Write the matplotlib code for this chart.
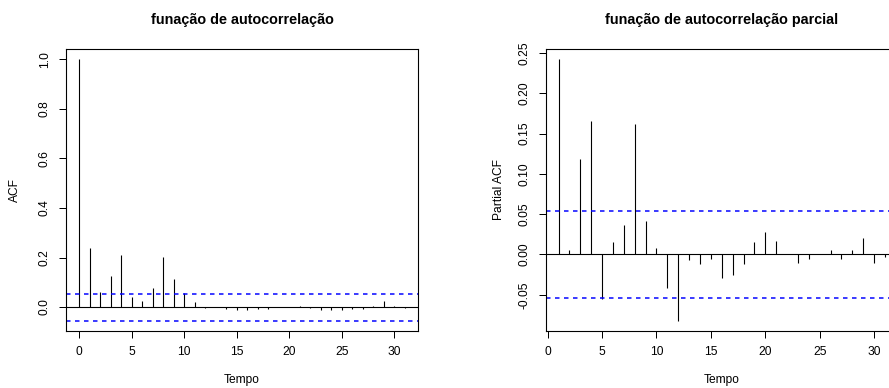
import matplotlib.pyplot as plt
import numpy as np

plt.rcParams["font.family"] = ["Liberation Sans", "DejaVu Sans"]

acf_lags = np.arange(0, 32)
acf_values = [
    1.000, 0.238, 0.062, 0.126, 0.211, 0.040, 0.026, 0.075, 0.202, 0.112,
    0.056, 0.019, -0.003, 0.000, -0.009, -0.013, -0.012, -0.007, -0.009, 0.000,
    0.000, 0.004, -0.005, -0.013, -0.012, -0.012, -0.009, -0.008, 0.005, 0.026,
    0.004, -0.005,
]

pacf_lags = np.arange(1, 32)
pacf_values = [
    0.242, 0.006, 0.119, 0.166, -0.055, 0.015, 0.037, 0.162, 0.041, 0.008,
    -0.042, -0.082, -0.007, -0.012, -0.006, -0.029, -0.026, -0.012, 0.015, 0.028,
    0.017, 0.001, -0.010, -0.006, 0.001, 0.006, -0.006, 0.006, 0.021, -0.010,
    -0.003,
]

# 95% band, qnorm(0.975) / sqrt(n)
conf_limit = 0.0545

x_ticks = [0, 5, 10, 15, 20, 25, 30]
acf_y_ticks = [0.0, 0.2, 0.4, 0.6, 0.8, 1.0]
pacf_y_ticks = [-0.05, 0.00, 0.05, 0.10, 0.15, 0.20, 0.25]

W, H = 889, 388
PX = 72 / 100  # one pixel in points at dpi 100


def r_panel(ax, lags, values, yticks, fmt, title, ylabel):
    """Mimic the look of R base graphics acf plot (type='h')."""
    ax.vlines(lags, 0, values, color="black", linewidth=1.1 * PX)
    ax.axhline(0, color="black", linewidth=1.1 * PX)
    for sign in (1, -1):
        ax.axhline(sign * conf_limit, color="#0000ff", linewidth=1.5 * PX,
                   linestyle=(0, (3, 3)))
    # R extends the data range by 4% on each side
    ax.margins(x=0.04, y=0.04)
    ax.autoscale_view()

    ax.set_xticks(x_ticks)
    ax.set_yticks(yticks)
    ax.set_yticklabels([fmt.format(v) for v in yticks])
    ax.tick_params(direction="out", length=7 * PX, width=1 * PX,
                   labelsize=12 * PX, colors="black")
    ax.tick_params(axis="x", pad=5.5)
    ax.tick_params(axis="y", pad=6)
    for lab in ax.get_yticklabels():
        lab.set_rotation(90)
        lab.set_va("center")
    for sp in ax.spines.values():
        sp.set_linewidth(1.1 * PX)
        sp.set_color("black")

    ax.text(0.5, 1 + 25 / 282, title, transform=ax.transAxes, ha="center",
            va="baseline", fontsize=14.4 * PX, fontweight="bold")
    ax.set_xlabel("Tempo", fontsize=12 * PX, va="center")
    ax.xaxis.set_label_coords(0.5, -49 / 282)
    ax.set_ylabel(ylabel, fontsize=12 * PX, va="center", ha="center")


fig = plt.figure(figsize=(W / 100, H / 100), dpi=100)

ax1 = fig.add_axes([66 / W, 57 / H, 352 / W, 282 / H])
r_panel(ax1, acf_lags, acf_values, acf_y_ticks, "{:.1f}",
        "funação de autocorrelação", "ACF")
ax1.yaxis.set_label_coords(-51 / 352, 0.5)

# The right panel runs past the right edge, as in the cropped original.
ax2 = fig.add_axes([545.5 / W, 57 / H, 352.5 / W, 282 / H])
r_panel(ax2, pacf_lags, pacf_values, pacf_y_ticks, "{:.2f}",
        "funação de autocorrelação parcial", "Partial ACF")
ax2.yaxis.set_label_coords(-47 / 352.5, 0.5)

fig.savefig("out.png", dpi=100)
